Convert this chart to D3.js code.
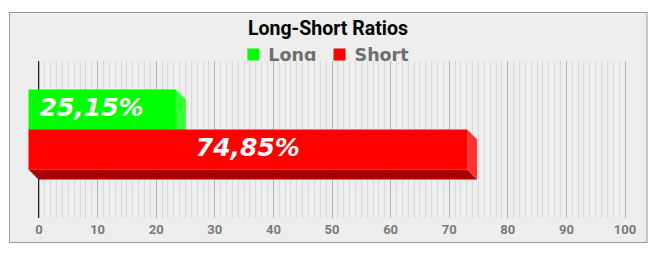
<!DOCTYPE html>
<html>
<head>
<meta charset="utf-8">
<script src="https://cdn.jsdelivr.net/npm/d3@7"></script>
<style>
	body { margin: 0; background: #fff; }
	svg { display: block; }
</style>
</head>
<body>
<svg class="chart"></svg>
<script>

let series = ['Long', 'Short'];
let values = [25.15, 74.85];
let valueLabels = ['25,15%', '74,85%'];
let tickValues = [0, 10, 20, 30, 40, 50, 60, 70, 80, 90, 100];
let title = 'Long-Short Ratios';

let width = 655, height = 258;
let depth = 10;

let front = ['#00ff00', '#ff0000'],
	side = ['#33ff33', '#ff3333'],
	bottom = ['#00a800', '#a80000'];

let chart = d3.select('.chart')
			.attr('width', width)
			.attr('height', height);

// frame
chart.append('rect')
		.attr('x', 9.5)
		.attr('y', 12.5)
		.attr('width', 637.5)
		.attr('height', 230)
		.attr('fill', '#eeeeee')
		.attr('stroke', '#999999');

chart.append('text')
		.attr('x', 328)
		.attr('y', 35)
		.attr('text-anchor', 'middle')
		.attr('font-family', 'Roboto')
		.attr('font-weight', 'bold')
		.attr('font-size', '19.5px')
		.attr('fill', '#000')
		.text(title);

// legend
let legend = chart.append('g');

let item = legend.selectAll('g')
				.data(series)
			.enter().append('g');

item.append('rect')
		.attr('y', 48.5)
		.attr('width', 12)
		.attr('height', 12)
		.attr('fill', function(d, i) { return front[i]; });

item.append('text')
		.attr('x', 21)
		.attr('y', 61)
		.attr('font-family', 'DejaVu Sans')
		.attr('font-weight', 'bold')
		.attr('font-size', '17.5px')
		.attr('fill', '#6e6e6e')
		.text(function(d) { return d; });

let pos = 0;
item.each(function() {
	let w = d3.select(this).select('text').node().getComputedTextLength();
	d3.select(this).attr('transform', 'translate(' + pos + ',0)');
	pos += 21 + w + 17;
});
pos -= 17;
legend.attr('transform', 'translate(' + (328 - pos / 2) + ',0)');

// plot
let plotLeft = 38.5, plotRight = 624.5, plotTop = 61, plotBottom = 218;

let x = d3.scaleLinear()
			.domain([0, 100])
			.range([plotLeft, plotRight]);

let y = d3.scaleBand()
			.domain(['ratio'])
			.range([plotTop, plotBottom])
			.paddingInner(0)
			.paddingOuter(0.48);

let y1 = d3.scaleBand()
			.domain(series)
			.range([0, y.bandwidth()]);

chart.append('rect')
		.attr('x', plotLeft)
		.attr('y', plotTop)
		.attr('width', plotRight - plotLeft)
		.attr('height', plotBottom - plotTop)
		.attr('fill', '#eeeeee');

chart.append('g')
		.selectAll('line')
		.data(d3.range(0, 101))
	.enter().append('line')
		.attr('x1', function(d) { return Math.round(x(d)) + 0.5; })
		.attr('x2', function(d) { return Math.round(x(d)) + 0.5; })
		.attr('y1', plotTop)
		.attr('y2', plotBottom)
		.attr('stroke', function(d) { return d % 10 === 0 ? '#b4b4b4' : '#dadada'; });

let xAxis = d3.axisBottom(x)
			.tickValues(tickValues)
			.tickSize(0)
			.tickPadding(7);

let axis = chart.append('g')
		.attr('transform', 'translate(0,' + plotBottom + ')')
		.call(xAxis);

axis.select('.domain').remove();
axis.selectAll('text')
		.attr('font-family', 'Roboto')
		.attr('font-weight', 'bold')
		.attr('font-size', '13px')
		.attr('fill', '#7a7a7a');

chart.append('line')
		.attr('x1', x(0))
		.attr('x2', x(0))
		.attr('y1', plotTop)
		.attr('y2', plotBottom)
		.attr('stroke', '#222');

// 3d bars
let bar = chart.selectAll('g.bar')
				.data(values)
			.enter().append('g')
				.attr('class', 'bar');

function yTop(i) { return y('ratio') + y1(series[i]); }

bar.append('polygon')
		.attr('fill', function(d, i) { return bottom[i]; })
		.attr('points', function(d, i) {
			let b = yTop(i) + y1.bandwidth();
			return [[x(0) - depth, b - depth], [x(0), b], [x(d), b], [x(d) - depth, b - depth]].join(' ');
		});

bar.append('polygon')
		.attr('fill', function(d, i) { return side[i]; })
		.attr('points', function(d, i) {
			let t = yTop(i), b = t + y1.bandwidth();
			return [[x(d) - depth, t - depth], [x(d), t], [x(d), b], [x(d) - depth, b - depth]].join(' ');
		});

bar.append('rect')
		.attr('x', x(0) - depth)
		.attr('y', function(d, i) { return yTop(i) - depth; })
		.attr('width', function(d) { return x(d) - x(0); })
		.attr('height', y1.bandwidth())
		.attr('fill', function(d, i) { return front[i]; });

bar.append('text')
		.attr('x', function(d, i) { return i === 0 ? x(0) - depth + 11 : (x(0) + x(d)) / 2 - depth; })
		.attr('y', function(d, i) { return yTop(i) - depth + y1.bandwidth() / 2 + 6.5; })
		.attr('text-anchor', function(d, i) { return i === 0 ? 'start' : 'middle'; })
		.attr('font-family', 'DejaVu Sans')
		.attr('font-weight', 'bold')
		.attr('font-style', 'italic')
		.attr('font-size', '25px')
		.attr('fill', '#fff')
		.text(function(d, i) { return valueLabels[i]; });

</script>
</body>
</html>
